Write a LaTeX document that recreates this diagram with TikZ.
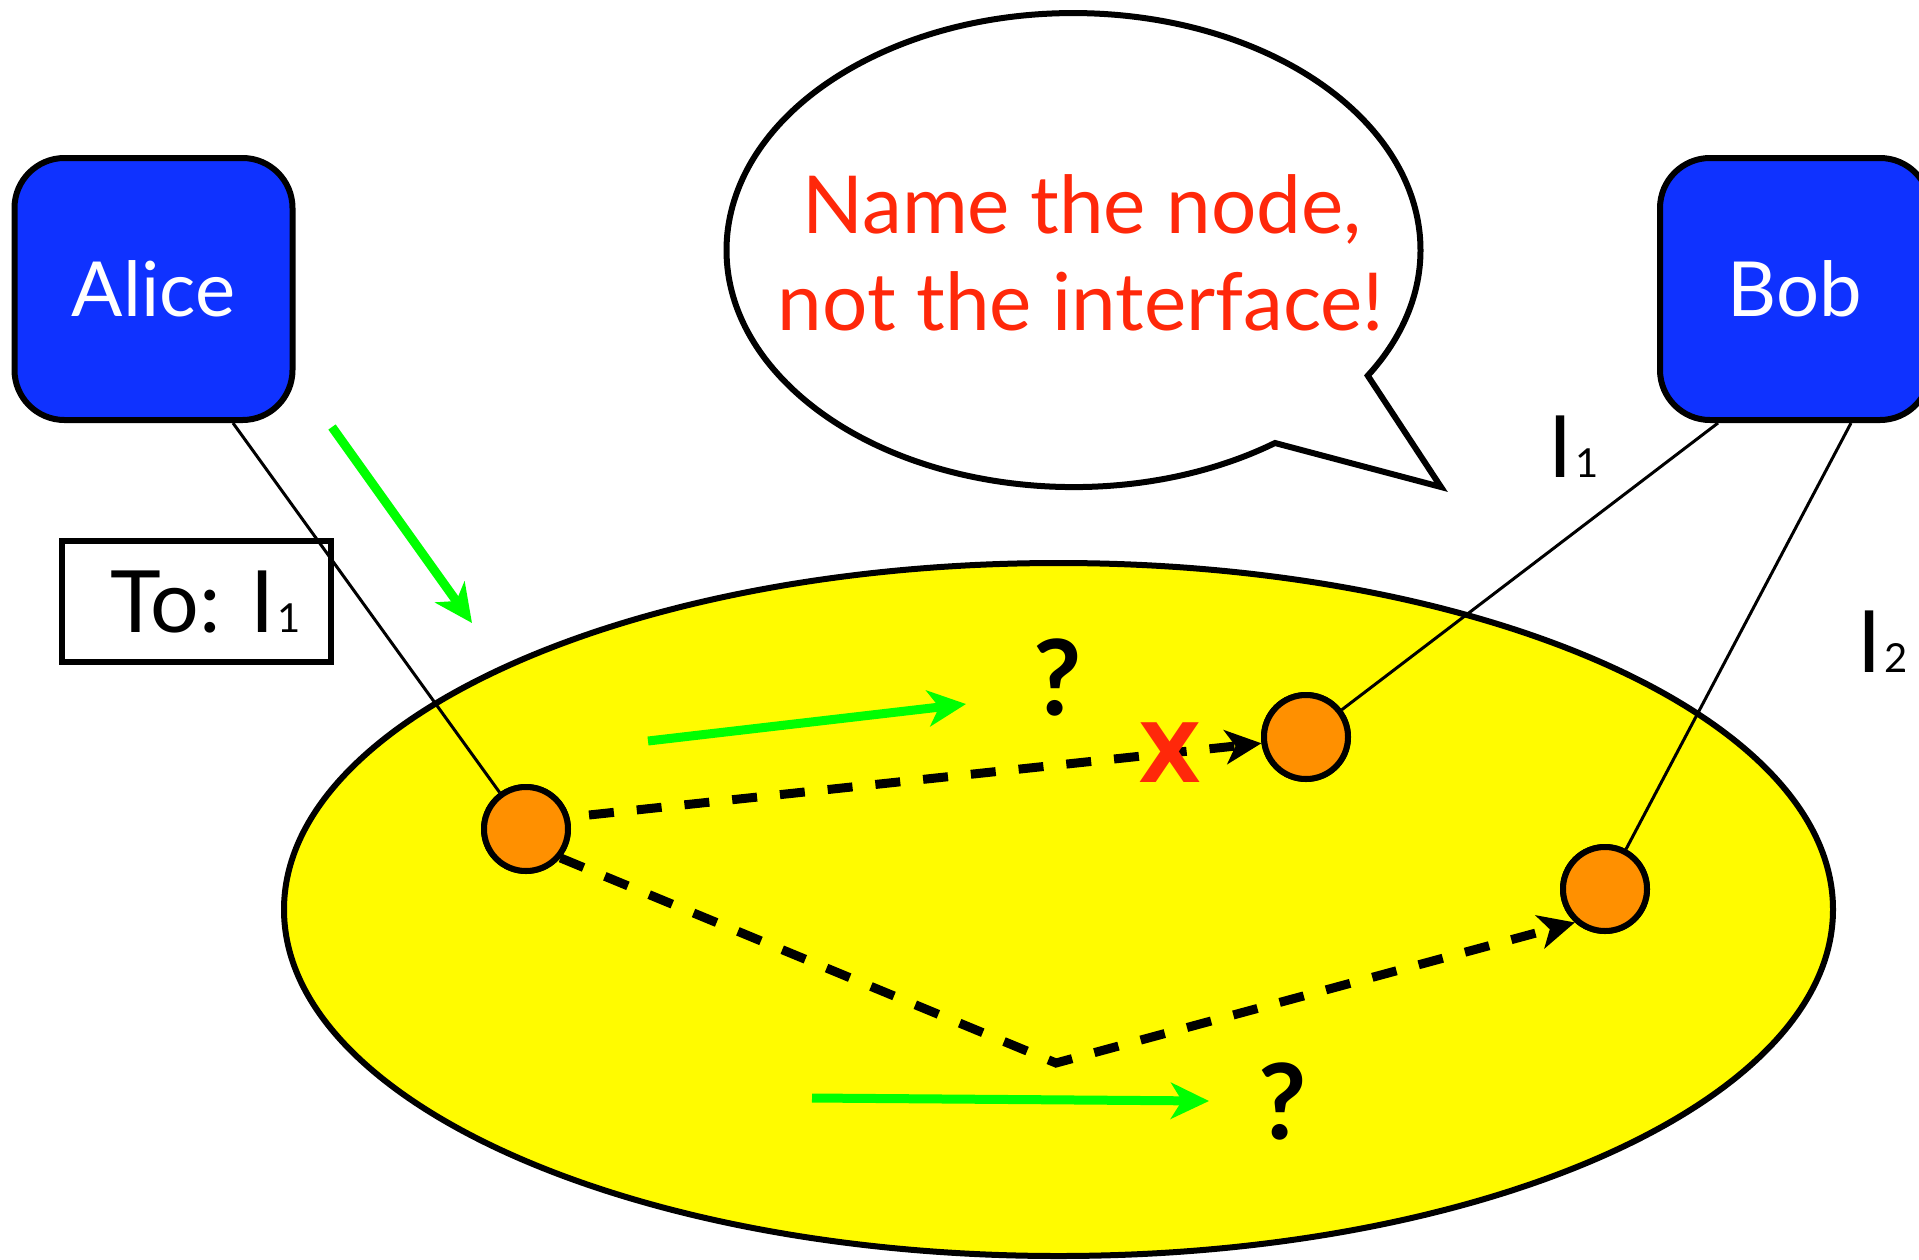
\documentclass[tikz,border=0pt]{standalone}
\usepackage{fontspec}
\setmainfont{Lato}
\newfontfamily\xfont{DejaVu Sans}
\usetikzlibrary{arrows.meta,shapes.geometric,calc}
\definecolor{boxblue}{RGB}{15,50,255}
\definecolor{txtred}{RGB}{255,40,10}
\definecolor{ylw}{RGB}{255,251,0}
\definecolor{orng}{RGB}{255,144,0}
\definecolor{grn}{RGB}{0,255,0}
\newcommand{\subdig}[1]{\kern3pt{\fontsize{40}{40}\selectfont #1}}
\begin{document}
\begin{tikzpicture}[x=1pt,y=-1pt,
  agent/.style={draw=black, line width=6pt, fill=boxblue, rounded corners=50pt, text=white,
    font=\fontsize{76}{90}\selectfont, minimum height=262pt, inner sep=0pt},
  router/.style={circle, draw=black, line width=6pt, fill=orng, minimum size=84pt, inner sep=0pt},
  link/.style={line width=3pt, draw=black},
  route/.style={line width=9pt, draw=black, dash pattern=on 25pt off 23pt,
    -{Stealth[length=36pt,width=34pt,inset=10pt]}},
  flow/.style={line width=9pt, draw=grn, -{Stealth[length=38pt,width=36pt,inset=11pt]}},
  lbl/.style={font=\fontsize{80}{96}\selectfont, inner sep=0pt},
  iflbl/.style={font=\fontsize{86}{100}\selectfont, inner sep=0pt, anchor=base west},
  qmark/.style={font=\bfseries\fontsize{105}{120}\selectfont, inner sep=0pt}]
\useasboundingbox (0,0) rectangle (1919,1259);
\clip (0,0) rectangle (1919,1259);

% network cloud
\node[ellipse, draw=black, line width=6pt, fill=ylw, minimum width=1549pt, minimum height=693pt, inner sep=0pt] (net) at (1058.5,909.5) {};

% hosts
\node[agent, minimum width=278pt] (alice) at (153.5,289) {Alice};
\node[agent, minimum width=270pt] (bob) at (1795,289) {Bob};

% speech bubble
\draw[line width=6pt, fill=white] (1275,443) arc[start angle=-54.5, end angle=-392, x radius=347pt, y radius=237pt] -- (1441,487) -- cycle;
\node[lbl, anchor=base, text=txtred] (msgA) at (1082,233) {Name the node,};
\node[lbl, anchor=base, text=txtred] (msgB) at (1081,330) {not the interface!};

% address box
\node[draw=black, line width=6pt, minimum width=269pt, minimum height=121pt, inner sep=0pt] (tobox) at (196.5,601.5) {};
\node[iflbl] (totext) at (110,632) {To: I\subdig{1}};

% interface labels
\node[iflbl] (ifA) at (1548,477) {I\subdig{1}};
\node[iflbl] (ifB) at (1857,672) {I\subdig{2}};

% routers
\node[router] (ra) at (526,829) {};
\node[router] (rb) at (1306,737) {};
\node[router] (rc) at (1605,889) {};
\coordinate (vtx) at (1056,1063);

% attachment links
\draw[link] ($(alice.south)+(79.5,0)$) -- (ra);
\draw[link] ($(bob.south)+(-77,0)$) -- (rb);
\draw[link] ($(bob.south)+(56,0)$) -- (rc);

% routes
\draw[route] ([shift={(18,-14)}]ra.east) -- (rb.188);
\draw[route] (ra.-40) -- (vtx) -- (rc.228);

% redraw routers on top
\node[router] at (ra) {};
\node[router] at (rb) {};
\node[router] at (rc) {};

% red cross
\node[font=\xfont\bfseries\fontsize{82}{90}\selectfont, text=txtred, inner sep=0pt] (cross) at (1170,753) {X};

% question marks
\node[qmark] (qa) at (1058,677) {?};
\node[qmark] (qb) at (1283,1101) {?};

% green flow arrows
\coordinate (gaS) at (332,427); \coordinate (gaE) at (472,623);
\coordinate (gbS) at (648,741); \coordinate (gbE) at (966,704);
\coordinate (gcS) at (812,1098); \coordinate (gcE) at (1209,1101);
\draw[flow] (gaS) -- (gaE);
\draw[flow] (gbS) -- (gbE);
\draw[flow] (gcS) -- (gcE);
\end{tikzpicture}
\end{document}
